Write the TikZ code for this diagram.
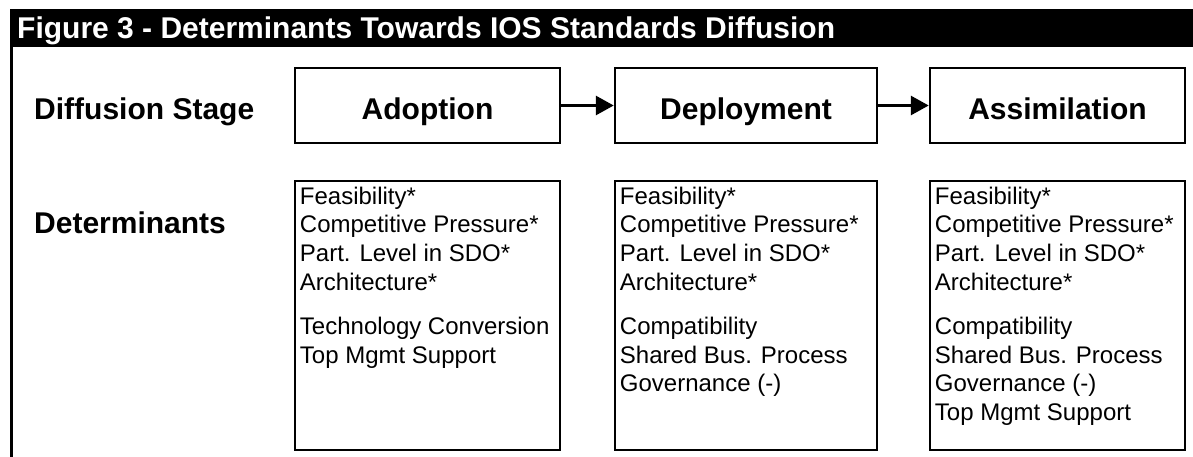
\documentclass[tikz,border=0pt]{standalone}
\usepackage{fontspec}
\setmainfont{Liberation Sans}
\usetikzlibrary{arrows.meta}

\tikzset{
    stagebox/.style={draw, line width=2.5pt, minimum height=75pt, inner sep=0pt,
        text height=28pt, text depth=0pt, font=\fontsize{30}{36}\selectfont\bfseries},
    detbox/.style={draw, line width=2.5pt, minimum height=269pt, inner sep=0pt},
    dettext/.style={anchor=north west, inner sep=0pt, align=left,
        font=\fontsize{24}{28.6}\selectfont},
    rowlabel/.style={anchor=base west, inner sep=0pt, font=\fontsize{30}{36}\selectfont\bfseries},
    flow/.style={line width=3pt, -{Triangle[length=18pt,width=19pt]}}
}

\begin{document}
\begin{tikzpicture}[x=1pt,y=1pt]

\useasboundingbox (0,0) rectangle (1193,-457);

% title bar
\fill (10,-9) rectangle (1193,-47);
\node[anchor=base west, inner sep=0pt, text=white, font=\fontsize{30}{36}\selectfont\bfseries]
    (title) at (17,-39) {Figure 3 - Determinants Towards IOS Standards Diffusion};
\draw[line width=3pt] (11.5,-46) -- (11.5,-457);

% row labels
\node[rowlabel] (stagelbl) at (34,-119.5) {Diffusion Stage};
\node[rowlabel] (detlbl)   at (34,-233)   {Determinants};

% stages and determinant boxes
\foreach \n/\x/\w/\s in {adoption/427.5/265/Adoption,
                         deployment/746/262/Deployment,
                         assimilation/1057.5/255/Assimilation}
{
    \node[stagebox, minimum width=\w pt] (\n) at (\x,-105.5) {\s};
    \node[detbox,   minimum width=\w pt] (\n det) at (\x,-315.5) {};
}

% flow
\draw[flow] (adoption)   -- (deployment);
\draw[flow] (deployment) -- (assimilation);

% determinants
\node[dettext] (adoptiontxt) at ([xshift=6pt,yshift=-7pt]adoptiondet.north west)
    {Feasibility*\\Competitive Pressure*\\Part. Level in SDO*\\Architecture*\\[16pt]
     Technology Conversion\\Top Mgmt Support};
\node[dettext] (deploymenttxt) at ([xshift=6pt,yshift=-7pt]deploymentdet.north west)
    {Feasibility*\\Competitive Pressure*\\Part. Level in SDO*\\Architecture*\\[16pt]
     Compatibility\\Shared Bus. Process\\Governance (-)};
\node[dettext] (assimilationtxt) at ([xshift=6pt,yshift=-7pt]assimilationdet.north west)
    {Feasibility*\\Competitive Pressure*\\Part. Level in SDO*\\Architecture*\\[16pt]
     Compatibility\\Shared Bus. Process\\Governance (-)\\Top Mgmt Support};

\end{tikzpicture}
\end{document}
